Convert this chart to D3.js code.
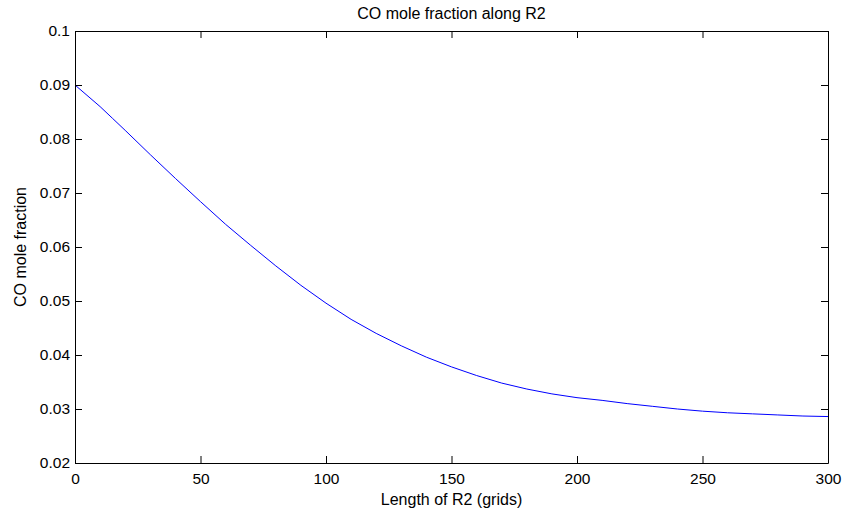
<!DOCTYPE html>
<html>
<head>
<meta charset="utf-8">
<script src="https://cdn.jsdelivr.net/npm/d3@7"></script>
<style>
  html, body { margin: 0; padding: 0; background: #fff; }
  svg { display: block; font-family: "Liberation Sans", Arial, sans-serif; }
</style>
</head>
<body>
<svg id="chart" width="844" height="514"></svg>
<script>
// Grid position along R2 and the CO mole fraction at each point
const gridPos = [0, 10, 15, 20, 30, 40, 50, 60, 70, 80, 90, 100, 110, 120, 130, 140, 150,
                 160, 170, 180, 190, 200, 210, 220, 230, 240, 250, 260, 270, 280, 290, 300];
const coFraction = [0.0900, 0.0860, 0.0838, 0.0816, 0.0771, 0.0727, 0.0684, 0.0642, 0.0603,
                    0.0565, 0.0529, 0.0496, 0.0466, 0.0440, 0.0417, 0.0396, 0.0378,
                    0.0362, 0.0348, 0.0337, 0.0328, 0.0321, 0.0316, 0.0310, 0.0305,
                    0.0300, 0.0296, 0.0293, 0.0291, 0.0289, 0.0287, 0.0286];
const xTicks = [0, 50, 100, 150, 200, 250, 300];
const yTicks = [0.02, 0.03, 0.04, 0.05, 0.06, 0.07, 0.08, 0.09, 0.1];

const svg = d3.select("#chart");
const plotL = 75, plotR = 828, plotT = 31, plotB = 463;

const x = d3.scaleLinear().domain([0, 300]).range([plotL, plotR]);
const y = d3.scaleLinear().domain([0.02, 0.1]).range([plotB, plotT]);

const tickLen = 7;
const tickFont = "15.5px";
const labelFont = "16px";
const fmtY = d => String(+d.toFixed(2));

// Curve
const line = d3.line().x((d, i) => x(gridPos[i])).y(d => y(d));
svg.append("path")
  .datum(coFraction)
  .attr("fill", "none")
  .attr("stroke", "#0000ff")
  .attr("stroke-width", 1)
  .attr("d", line);

// Box axes with inward ticks on all four sides
const axB = svg.append("g").attr("transform", `translate(0,${plotB})`)
  .call(d3.axisBottom(x).tickValues(xTicks).tickSizeInner(-tickLen).tickSizeOuter(0).tickPadding(10));
const axT = svg.append("g").attr("transform", `translate(0,${plotT})`)
  .call(d3.axisTop(x).tickValues(xTicks).tickSizeInner(-tickLen).tickSizeOuter(0).tickFormat(""));
const axL = svg.append("g").attr("transform", `translate(${plotL},0)`)
  .call(d3.axisLeft(y).tickValues(yTicks).tickSizeInner(-tickLen).tickSizeOuter(0).tickPadding(5).tickFormat(fmtY));
const axR = svg.append("g").attr("transform", `translate(${plotR},0)`)
  .call(d3.axisRight(y).tickValues(yTicks).tickSizeInner(-tickLen).tickSizeOuter(0).tickFormat(""));

[axB, axT, axL, axR].forEach(g => {
  g.select(".domain").attr("stroke", "#000").attr("stroke-width", 1);
  g.selectAll(".tick line").attr("stroke", "#000");
  g.selectAll("text").attr("fill", "#000")
    .style("font-family", "'Liberation Sans', Arial, sans-serif")
    .style("font-size", tickFont);
});

// Titles
svg.append("text")
  .attr("x", (plotL + plotR) / 2).attr("y", 19)
  .attr("text-anchor", "middle")
  .style("font-size", labelFont)
  .text("CO mole fraction along R2");

svg.append("text")
  .attr("x", (plotL + plotR) / 2).attr("y", 505)
  .attr("text-anchor", "middle")
  .style("font-size", labelFont)
  .text("Length of R2 (grids)");

svg.append("text")
  .attr("transform", `translate(26,${(plotT + plotB) / 2}) rotate(-90)`)
  .attr("text-anchor", "middle")
  .style("font-size", labelFont)
  .text("CO mole fraction");
</script>
</body>
</html>
